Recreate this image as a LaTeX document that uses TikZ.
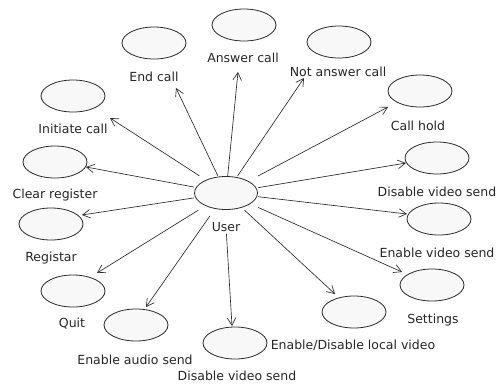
\documentclass[tikz,border=0pt]{standalone}
\usepackage{fontspec}
\setmainfont{DejaVu Sans}
\usetikzlibrary{arrows.meta,shapes.geometric}
\definecolor{linec}{HTML}{2A2A2A}
\definecolor{fillc}{HTML}{F8F8F8}
\tikzset{
  uc/.style={ellipse, draw=linec, fill=fillc, line width=0.8pt, minimum width=64pt, minimum height=32pt, inner sep=0pt},
  lbl/.style={font=\fontsize{12.5}{13}\selectfont, text=black!85, inner sep=1pt},
  assoc/.style={draw=linec, line width=0.65pt, -{Straight Barb[length=7.5pt,width=8.5pt]}},
}
\begin{document}
\begin{tikzpicture}[x=1pt,y=-1pt]
\useasboundingbox (0,0) rectangle (497,383);
% actor
\node[uc, minimum width=63pt, minimum height=33pt] (user) at (226,193) {};
\node[draw=none, minimum width=64pt, minimum height=34pt, inner sep=0pt] (userbox) at (226,193) {};
\node[lbl] (userlbl) at (226,227) {User};
% use cases
\node[uc] (endcall) at (154,43) {};
\node[uc] (answer) at (244,25) {};
\node[uc] (notanswer) at (339,42) {};
\node[uc] (initiate) at (73,96) {};
\node[uc] (callhold) at (420,91) {};
\node[uc] (clearreg) at (55,162) {};
\node[uc] (disvidR) at (437,158) {};
\node[uc] (registar) at (51,224) {};
\node[uc] (envid) at (439,219) {};
\node[uc] (quit) at (73,291) {};
\node[uc] (settings) at (432,285) {};
\node[uc] (enaudio) at (136,325) {};
\node[uc] (disvidB) at (235,343) {};
\node[uc] (local) at (354,312) {};
% labels
\node[lbl] (lEnd) at (154,77) {End call};
\node[lbl] (lAns) at (243,58) {Answer call};
\node[lbl] (lNot) at (338,72) {Not answer call};
\node[lbl] (lInit) at (73,129) {Initiate call};
\node[lbl] (lHold) at (418,126) {Call hold};
\node[lbl] (lClear) at (55,195) {Clear register};
\node[lbl] (lDisR) at (437,192) {Disable video send};
\node[lbl] (lReg) at (51,258) {Registar};
\node[lbl] (lEnv) at (437,253) {Enable video send};
\node[lbl] (lQuit) at (72,324) {Quit};
\node[lbl] (lSet) at (433,320) {Settings};
\node[lbl] (lAud) at (135,360) {Enable audio send};
\node[lbl] (lDisB) at (237,376) {Disable video send};
\node[lbl] (lLoc) at (353,345) {Enable/Disable local video};
% arrow tips
\coordinate (tEnd) at (176,88);
\coordinate (tAns) at (238,72);
\coordinate (tNot) at (304,78);
\coordinate (tHold) at (388,107);
\coordinate (tInit) at (110,118);
\coordinate (tClear) at (86,167);
\coordinate (tDisR) at (406,163);
\coordinate (tReg) at (82,215);
\coordinate (tEnv) at (407,214);
\coordinate (tQuit) at (97,273);
\coordinate (tSet) at (402,272);
\coordinate (tAud) at (146,307);
\coordinate (tDisB) at (232,326);
\coordinate (tLoc) at (335,294);
% associations
\foreach \t in {tEnd,tAns,tNot,tHold,tInit,tClear,tDisR,tReg,tEnv,tQuit,tSet,tLoc}
  \draw[assoc] (userbox) -- (\t);
\draw[assoc, shorten <=7pt] (userbox) -- (tAud);
\draw[assoc, shorten <=1pt] (userlbl) -- (tDisB);
\end{tikzpicture}
\end{document}
